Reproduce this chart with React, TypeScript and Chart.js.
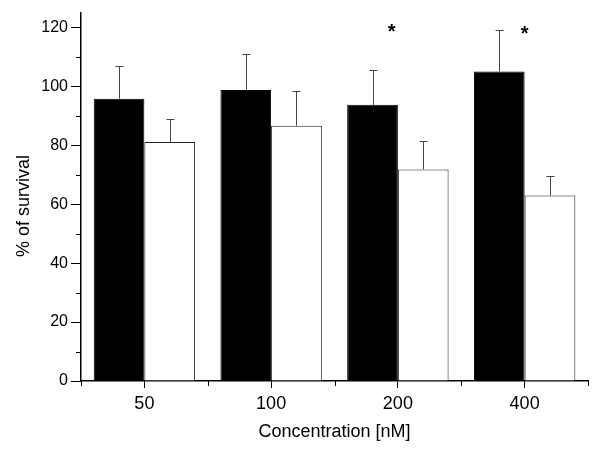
import React, { useEffect, useRef } from 'react';
import { Chart, registerables } from 'chart.js';

Chart.register(...registerables);

const categories = ['50', '100', '200', '400'];
const blackValues = [95.8, 98.7, 93.7, 105.0];
const blackErrors = [11.0, 12.4, 11.9, 14.2];
const whiteValues = [81.1, 86.6, 71.8, 62.9];
const whiteErrors = [7.8, 11.8, 9.7, 6.8];
const yTicks = [0, 20, 40, 60, 80, 100, 120];
const yMinorTicks = [10, 30, 50, 70, 90, 110];
const asteriskCategoryIndex = [1.95, 3];
const asteriskValues = [118.0, 117.3];

const FONT = "Arial, 'Liberation Sans', sans-serif";

const decorPlugin = {
  id: 'decor',
  afterDatasetsDraw(chart: any) {
    const ctx = chart.ctx;
    const y = chart.scales.y;
    const sets = [
      { vals: blackValues, errs: blackErrors },
      { vals: whiteValues, errs: whiteErrors },
    ];
    sets.forEach((s, di) => {
      const meta = chart.getDatasetMeta(di);
      meta.data.forEach((bar: any, i: number) => {
        const top = y.getPixelForValue(s.vals[i]);
        const et = Math.round(y.getPixelForValue(s.vals[i] + s.errs[i])) + 0.5;
        const cx = Math.round(bar.x) + 0.5;
        ctx.save();
        ctx.strokeStyle = '#444';
        ctx.lineWidth = 1;
        ctx.beginPath();
        ctx.moveTo(cx, top);
        ctx.lineTo(cx, et);
        ctx.moveTo(cx - 4, et);
        ctx.lineTo(cx + 4, et);
        ctx.stroke();
        ctx.restore();
      });
    });
  },
  afterDraw(chart: any) {
    const ctx = chart.ctx;
    const x = chart.scales.x;
    const y = chart.scales.y;
    const area = chart.chartArea;
    ctx.save();
    ctx.strokeStyle = '#000';
    ctx.lineWidth = 1;
    ctx.beginPath();
    yMinorTicks.forEach((v) => {
      const py = Math.round(y.getPixelForValue(v)) + 0.5;
      ctx.moveTo(area.left - 5, py);
      ctx.lineTo(area.left, py);
    });
    for (let i = 0; i <= categories.length; i++) {
      const px = Math.round(x.getPixelForValue(i - 0.5)) + 0.5;
      ctx.moveTo(px, area.bottom);
      ctx.lineTo(px, area.bottom + 5);
    }
    ctx.stroke();

    // asterisks
    ctx.fillStyle = '#000';
    ctx.font = `bold 20px ${FONT}`;
    ctx.textAlign = 'center';
    ctx.textBaseline = 'alphabetic';
    asteriskCategoryIndex.forEach((ci, k) => {
      const px = x.getPixelForValue(ci);
      const py = y.getPixelForValue(asteriskValues[k]);
      ctx.fillText('*', px, py + 5);
    });

    // y-axis title
    ctx.translate(24.5, 206);
    ctx.rotate(-Math.PI / 2);
    ctx.font = `18px ${FONT}`;
    ctx.textAlign = 'center';
    ctx.textBaseline = 'middle';
    ctx.fillText('% of survival', 0, 0);
    ctx.restore();
  },
};

export default function App() {
  const ref = useRef<HTMLCanvasElement | null>(null);
  useEffect(() => {
    if (!ref.current) return;
    const chart = new Chart(ref.current, {
      type: 'bar',
      data: {
        labels: categories,
        datasets: [
          {
            label: 'black',
            data: blackValues,
            backgroundColor: '#000',
            borderColor: '#000',
            borderWidth: 1,
            categoryPercentage: 0.8,
            barPercentage: 1.0,
          },
          {
            label: 'white',
            data: whiteValues,
            backgroundColor: '#fff',
            borderColor: '#222',
            borderWidth: 1,
            categoryPercentage: 0.8,
            barPercentage: 1.0,
          },
        ],
      },
      options: {
        responsive: false,
        animation: false,
        devicePixelRatio: 1,
        layout: { padding: { top: 8, right: 12, left: 0, bottom: 0 } },
        plugins: {
          legend: { display: false },
          tooltip: { enabled: false },
        },
        scales: {
          x: {
            type: 'category',
            offset: true,
            grid: {
              display: true,
              drawOnChartArea: false,
              drawTicks: true,
              tickLength: 7,
              offset: false,
              color: '#000',
              lineWidth: 1,
            },
            border: { display: true, color: '#000', width: 1.5 },
            ticks: { font: { size: 18, family: FONT }, color: '#000', padding: 5, maxRotation: 0 },
            title: {
              display: true,
              text: 'Concentration [nM]',
              font: { size: 18, family: FONT },
              color: '#000',
              padding: { top: 0, bottom: 8 },
            },
            afterFit: (s: any) => {
              s.height = 70;
            },
          },
          y: {
            type: 'linear',
            min: 0,
            max: 125,
            afterBuildTicks: (s: any) => {
              s.ticks = yTicks.map((v) => ({ value: v }));
            },
            grid: {
              display: true,
              drawOnChartArea: false,
              drawTicks: true,
              tickLength: 10,
              color: '#000',
              lineWidth: 1,
            },
            border: { display: true, color: '#000', width: 1.5 },
            ticks: { font: { size: 16, family: FONT }, color: '#000', padding: 3 },
            afterFit: (s: any) => {
              s.width = 81;
            },
          },
        },
      },
      plugins: [decorPlugin],
    } as any);
    return () => chart.destroy();
  }, []);
  return (
    <div style={{ position: 'absolute', left: 0, top: 0, width: 600, height: 451, background: '#fff' }}>
      <canvas ref={ref} width={600} height={451} style={{ display: 'block' }} />
    </div>
  );
}
